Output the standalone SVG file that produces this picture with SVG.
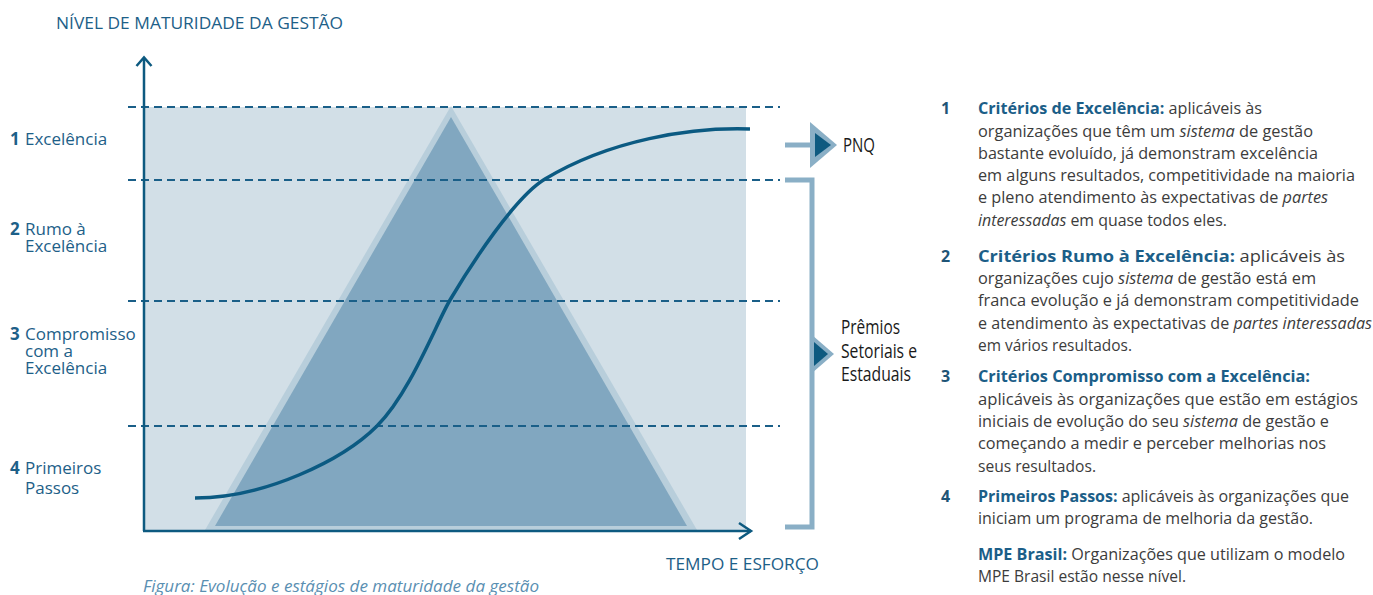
<svg xmlns="http://www.w3.org/2000/svg" width="1373" height="595" viewBox="0 0 1373 595">
<style>
.lbl{font-family:"Open Sans","Noto Sans","Liberation Sans",sans-serif;font-size:17px;fill:#1d6088}
.lbl .n{font-weight:bold}
.axt{font-family:"Open Sans","Noto Sans","Liberation Sans",sans-serif;font-size:17px;fill:#1d6088}
.cap{font-family:"Open Sans","Noto Sans","Liberation Sans",sans-serif;font-size:17px;font-style:italic;fill:#5a8fb2}
.aw{font-family:"Open Sans","Noto Sans","Liberation Sans",sans-serif;font-size:20px;fill:#1a1a1a}
.tx{font-family:"Open Sans","Noto Sans","Liberation Sans",sans-serif;font-size:16px;fill:#3c3c3c}
.tx .b{font-weight:bold;fill:#1b5e88}
.tx .i{font-style:italic}
.num{font-family:"Open Sans","Noto Sans","Liberation Sans",sans-serif;font-size:16px;font-weight:bold;fill:#1f5577}
.dash{stroke:#1a5f88;stroke-width:2;stroke-dasharray:8 5;fill:none}
.axis{stroke:#0d5a80;stroke-width:2.5;fill:none}
.brk{stroke:#8aafc6;stroke-width:5;fill:none}
</style>

<g id="background">
<rect x="144" y="107" width="602" height="424" fill="#d2dfe7"/>
</g>
<g id="pyramid">
<polygon points="451,106 205,530 697,530" fill="#b8cedb"/>
<polygon points="451,117 215,526 687,526" fill="#81a7c0"/>
</g>
<g id="levels">
<line class="dash" x1="128" y1="107" x2="780" y2="107"/>
<line class="dash" x1="128" y1="180" x2="780" y2="180"/>
<line class="dash" x1="128" y1="301" x2="780" y2="301"/>
<line class="dash" x1="128" y1="426" x2="780" y2="426"/>
</g>
<g id="curve">
<path d="M195,498 C265,498 343,460 377,426 C410,393 436,324 450,300 C472,263 515,197 545,179 C610,140 690,127 750,129" fill="none" stroke="#0b5a82" stroke-width="3.5"/>
</g>
<g id="axes">
<line class="axis" x1="144" y1="58" x2="144" y2="531"/>
<line class="axis" x1="143" y1="531" x2="751" y2="531"/>
<polyline class="axis" points="136.5,66 144,57.5 151.5,66" stroke-width="3"/>
<polyline class="axis" points="739,523 751,531 739,539" stroke-width="3"/>
</g>
<g id="axis-labels">
<text class="axt" x="56" y="29" textLength="287" lengthAdjust="spacingAndGlyphs">NÍVEL DE MATURIDADE DA GESTÃO</text>
<text class="axt" x="666" y="570" textLength="153" lengthAdjust="spacingAndGlyphs">TEMPO E ESFORÇO</text>
<text class="cap" x="143" y="592" textLength="396" lengthAdjust="spacingAndGlyphs">Figura: Evolução e estágios de maturidade da gestão</text>
</g>
<g id="level-1"><text class="lbl" y="145"><tspan class="n" x="10">1</tspan><tspan x="25">Excelência</tspan></text></g>
<g id="level-2"><text class="lbl" y="235"><tspan class="n" x="10">2</tspan><tspan x="25">Rumo à</tspan><tspan x="25" y="252">Excelência</tspan></text></g>
<g id="level-3"><text class="lbl" y="340"><tspan class="n" x="10">3</tspan><tspan x="25">Compromisso</tspan><tspan x="25" y="357">com a</tspan><tspan x="25" y="374">Excelência</tspan></text></g>
<g id="level-4"><text class="lbl" y="474"><tspan class="n" x="10">4</tspan><tspan x="25">Primeiros</tspan><tspan x="25" y="494">Passos</tspan></text></g>

<g id="connectors">
<line class="brk" x1="785" y1="145" x2="812" y2="145"/>
<polygon points="810,122 810,168 837,145" fill="#8aafc6"/>
<polygon points="815,133 815,157 831,145" fill="#0e5a80"/>
<polyline class="brk" points="785,180 812,180 812,527 785,527"/>
<polygon points="812,335 812,373 834,354" fill="#8aafc6"/>
<polygon points="814,342 814,366 828,354" fill="#0e5a80"/>
</g>
<g id="pnq"><text class="aw" x="843" y="152" textLength="32" lengthAdjust="spacingAndGlyphs">PNQ</text></g>
<g id="premios">
<text class="aw" x="841" y="334" textLength="59" lengthAdjust="spacingAndGlyphs">Prêmios</text>
<text class="aw" x="841" y="358" textLength="76" lengthAdjust="spacingAndGlyphs">Setoriais e</text>
<text class="aw" x="841" y="381" textLength="70" lengthAdjust="spacingAndGlyphs">Estaduais</text>
</g>

<g id="desc-1">
<text class="num" x="941" y="114">1</text>
<text class="tx" x="978" y="114" textLength="284" lengthAdjust="spacingAndGlyphs"><tspan class="b">Critérios de Excelência:</tspan> aplicáveis às</text>
<text class="tx" x="978" y="137" textLength="335" lengthAdjust="spacingAndGlyphs">organizações que têm um <tspan class="i">sistema</tspan> de gestão</text>
<text class="tx" x="978" y="159" textLength="340" lengthAdjust="spacingAndGlyphs">bastante evoluído, já demonstram excelência</text>
<text class="tx" x="978" y="181" textLength="377" lengthAdjust="spacingAndGlyphs">em alguns resultados, competitividade na maioria</text>
<text class="tx" x="978" y="203" textLength="350" lengthAdjust="spacingAndGlyphs">e pleno atendimento às expectativas de <tspan class="i">partes</tspan></text>
<text class="tx" x="978" y="226" textLength="249" lengthAdjust="spacingAndGlyphs"><tspan class="i">interessadas</tspan> em quase todos eles.</text>
</g>
<g id="desc-2">
<text class="num" x="941" y="262">2</text>
<text class="tx" x="978" y="262" textLength="367" lengthAdjust="spacingAndGlyphs"><tspan class="b">Critérios Rumo à Excelência:</tspan> aplicáveis às</text>
<text class="tx" x="978" y="284" textLength="338" lengthAdjust="spacingAndGlyphs">organizações cujo <tspan class="i">sistema</tspan> de gestão está em</text>
<text class="tx" x="978" y="306" textLength="381" lengthAdjust="spacingAndGlyphs">franca evolução e já demonstram competitividade</text>
<text class="tx" x="978" y="329" textLength="394" lengthAdjust="spacingAndGlyphs">e atendimento às expectativas de <tspan class="i">partes interessadas</tspan></text>
<text class="tx" x="978" y="351" textLength="154" lengthAdjust="spacingAndGlyphs">em vários resultados.</text>
</g>
<g id="desc-3">
<text class="num" x="941" y="382">3</text>
<text class="tx" x="978" y="382" textLength="332" lengthAdjust="spacingAndGlyphs"><tspan class="b">Critérios Compromisso com a Excelência:</tspan></text>
<text class="tx" x="978" y="405" textLength="380" lengthAdjust="spacingAndGlyphs">aplicáveis às organizações que estão em estágios</text>
<text class="tx" x="978" y="427" textLength="351" lengthAdjust="spacingAndGlyphs">iniciais de evolução do seu <tspan class="i">sistema</tspan> de gestão e</text>
<text class="tx" x="978" y="449" textLength="348" lengthAdjust="spacingAndGlyphs">começando a medir e perceber melhorias nos</text>
<text class="tx" x="978" y="472" textLength="118" lengthAdjust="spacingAndGlyphs">seus resultados.</text>
</g>
<g id="desc-4">
<text class="num" x="941" y="502">4</text>
<text class="tx" x="978" y="502" textLength="371" lengthAdjust="spacingAndGlyphs"><tspan class="b">Primeiros Passos:</tspan> aplicáveis às organizações que</text>
<text class="tx" x="978" y="524" textLength="335" lengthAdjust="spacingAndGlyphs">iniciam um programa de melhoria da gestão.</text>
</g>
<g id="desc-mpe">
<text class="tx" x="978" y="560" textLength="367" lengthAdjust="spacingAndGlyphs"><tspan class="b">MPE Brasil:</tspan> Organizações que utilizam o modelo</text>
<text class="tx" x="978" y="582" textLength="208" lengthAdjust="spacingAndGlyphs">MPE Brasil estão nesse nível.</text>
</g>
</svg>
